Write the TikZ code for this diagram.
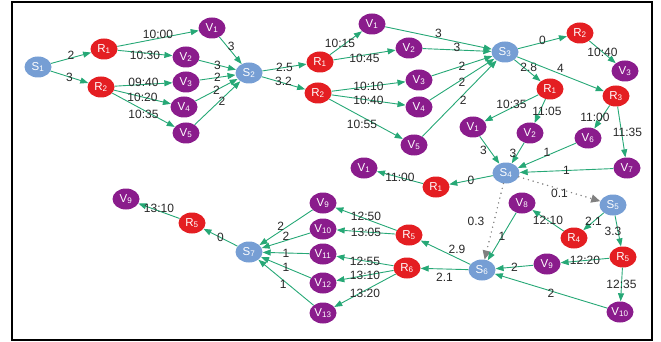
\documentclass[tikz,border=0pt]{standalone}
\usepackage{fontspec}
\setmainfont{Liberation Sans}
\usetikzlibrary{arrows.meta,shapes.geometric}
\definecolor{sblue}{RGB}{118,158,212}
\definecolor{rred}{RGB}{228,30,34}
\definecolor{vpurple}{RGB}{138,28,140}
\definecolor{egreen}{RGB}{38,168,118}
\definecolor{lgray}{RGB}{40,40,40}
\begin{document}
\begin{tikzpicture}[x=1pt,y=-1pt,
    snode/.style={ellipse,fill=sblue,text=white,inner sep=0pt,minimum width=27pt,minimum height=21pt,font=\fontsize{11.5}{11.5}\selectfont},
    rnode/.style={snode,fill=rred},
    vnode/.style={snode,fill=vpurple},
    edge/.style={draw=egreen,line width=0.9pt,-{Triangle[length=8pt,width=6pt]}},
    dotedge/.style={draw=gray,line width=1.6pt,line cap=round,dash pattern=on 0pt off 5pt,-{Triangle[length=9pt,width=8pt]}},
    lbl/.style={text=lgray,font=\fontsize{12}{12}\selectfont,inner sep=1pt}]
        \useasboundingbox (0,0) rectangle (661,342);
        \draw[line width=2pt] (12,2) rectangle (652,340);
        % first block
        \node[snode] (s1) at (38,67) {S\textsubscript{1}};
        \node[rnode] (r1a) at (104,49) {R\textsubscript{1}};
        \node[rnode] (r2a) at (101,87) {R\textsubscript{2}};
        \node[vnode] (v1a) at (212,28) {V\textsubscript{1}};
        \node[vnode] (v2a) at (186,57) {V\textsubscript{2}};
        \node[vnode] (v3a) at (186,82) {V\textsubscript{3}};
        \node[vnode] (v4a) at (184,107) {V\textsubscript{4}};
        \node[vnode] (v5a) at (186,133) {V\textsubscript{5}};
        \node[snode] (s2) at (249,73) {S\textsubscript{2}};
        \draw[edge] (s1) -- node[lbl,yshift=3pt] {2} (r1a);
        \draw[edge] (s1) -- node[lbl] {3} (r2a);
        \draw[edge] (r1a) -- node[lbl,yshift=4pt] {10:00} (v1a);
        \draw[edge] (r1a) -- node[lbl,yshift=-2pt] {10:30} (v2a);
        \draw[edge] (r2a) -- node[lbl,yshift=2pt] {09:40} (v3a);
        \draw[edge] (r2a) -- node[lbl] {10:20} (v4a);
        \draw[edge] (r2a) -- node[lbl,yshift=-4pt] {10:35} (v5a);
        \draw[edge] (v1a) -- node[lbl,pos=.35,xshift=4pt] {3} (s2);
        \draw[edge] (v2a) -- node[lbl] {3} (s2);
        \draw[edge] (v3a) -- node[lbl] {2} (s2);
        \draw[edge] (v4a) -- node[lbl] {2} (s2);
        \draw[edge] (v5a) -- node[lbl,pos=.6,yshift=-3pt] {2} (s2);
        % second block
        \node[rnode] (r1b) at (320,62) {R\textsubscript{1}};
        \node[rnode] (r2b) at (318,93) {R\textsubscript{2}};
        \node[vnode] (v1b) at (372,24) {V\textsubscript{1}};
        \node[vnode] (v2b) at (409,48) {V\textsubscript{2}};
        \node[vnode] (v3b) at (419,80) {V\textsubscript{3}};
        \node[vnode] (v4b) at (419,107) {V\textsubscript{4}};
        \node[vnode] (v5b) at (414,145) {V\textsubscript{5}};
        \node[snode] (s3) at (505,52) {S\textsubscript{3}};
        \draw[edge] (s2) -- node[lbl] {2.5} (r1b);
        \draw[edge] (s2) -- node[lbl,yshift=2pt] {3.2} (r2b);
        \draw[edge] (r1b) -- node[lbl,xshift=-6pt] {10:15} (v1b);
        \draw[edge] (r1b) -- node[lbl,yshift=-3pt] {10:45} (v2b);
        \draw[edge] (r2b) -- node[lbl] {10:10} (v3b);
        \draw[edge] (r2b) -- node[lbl] {10:40} (v4b);
        \draw[edge] (r2b) -- node[lbl,xshift=-4pt,yshift=-5pt] {10:55} (v5b);
        \draw[edge] (v1b) -- node[lbl,yshift=5pt] {3} (s3);
        \draw[edge] (v2b) -- node[lbl,yshift=3pt] {3} (s3);
        \draw[edge] (v3b) -- node[lbl] {2} (s3);
        \draw[edge] (v4b) -- node[lbl,yshift=-3pt] {2} (s3);
        \draw[edge] (v5b) -- node[lbl,pos=.55,yshift=-6pt] {2} (s3);
        % third block
        \node[rnode] (r2c) at (580,33) {R\textsubscript{2}};
        \node[vnode] (v3c) at (625,71) {V\textsubscript{3}};
        \node[rnode] (r1c) at (550,89) {R\textsubscript{1}};
        \node[rnode] (r3c) at (616,96) {R\textsubscript{3}};
        \node[vnode] (v1c) at (473,127) {V\textsubscript{1}};
        \node[vnode] (v2c) at (530,133) {V\textsubscript{2}};
        \node[vnode] (v6c) at (588,138) {V\textsubscript{6}};
        \node[vnode] (v7c) at (627,168) {V\textsubscript{7}};
        \node[snode] (s4) at (506,173) {S\textsubscript{4}};
        \draw[edge] (s3) -- node[lbl,yshift=2pt] {0} (r2c);
        \draw[edge] (r2c) -- node[lbl] {10:40} (v3c);
        \draw[edge] (s3) -- node[lbl,pos=.55,yshift=4pt] {2.8} (r1c);
        \draw[edge] (s3) -- node[lbl,yshift=6pt] {4} (r3c);
        \draw[edge] (r1c) -- node[lbl,yshift=4pt] {10:35} (v1c);
        \draw[edge] (r1c) -- node[lbl,xshift=7pt] {11:05} (v2c);
        \draw[edge] (r3c) -- node[lbl,xshift=-7pt] {11:00} (v6c);
        \draw[edge] (r3c) -- node[lbl,xshift=6pt] {11:35} (v7c);
        \draw[edge] (v1c) -- node[lbl,xshift=-6pt] {3} (s4);
        \draw[edge] (v2c) -- node[lbl,xshift=-5pt] {3} (s4);
        \draw[edge] (v6c) -- node[lbl,yshift=3pt] {1} (s4);
        \draw[edge] (v7c) -- node[lbl] {1} (s4);
        % fourth block
        \node[rnode] (r1d) at (436,187) {R\textsubscript{1}};
        \node[vnode] (v1d) at (364,168) {V\textsubscript{1}};
        \node[vnode] (v8d) at (522,203) {V\textsubscript{8}};
        \node[snode] (s5) at (613,205) {S\textsubscript{5}};
        \node[rnode] (r4d) at (574,238) {R\textsubscript{4}};
        \node[rnode] (r5d) at (623,257) {R\textsubscript{5}};
        \node[vnode] (v9d) at (547,264) {V\textsubscript{9}};
        \node[vnode] (v10d) at (620,312) {V\textsubscript{10}};
        \node[snode] (s6) at (482,270) {S\textsubscript{6}};
        \draw[edge] (s4) -- node[lbl] {0} (r1d);
        \draw[edge] (r1d) -- node[lbl] {11:00} (v1d);
        \draw[dotedge] (s4) -- node[lbl,yshift=-4pt] {0.1} (s5);
        \draw[dotedge] (s4) -- node[lbl,xshift=-18pt] {0.3} (s6);
        \draw[edge] (s5) -- node[lbl] {2.1} (r4d);
        \draw[edge] (s5) -- node[lbl,xshift=-5pt] {3.3} (r5d);
        \draw[edge] (r4d) -- node[lbl] {12:10} (v8d);
        \draw[edge] (r5d) -- node[lbl] {12:20} (v9d);
        \draw[edge] (r5d) -- node[lbl] {12:35} (v10d);
        \draw[edge] (v8d) -- node[lbl] {1} (s6);
        \draw[edge] (v9d) -- node[lbl] {2} (s6);
        \draw[edge] (v10d) -- node[lbl,yshift=-2pt] {2} (s6);
        % fifth block
        \node[rnode] (r5e) at (409,235) {R\textsubscript{5}};
        \node[rnode] (r6e) at (407,268) {R\textsubscript{6}};
        \node[vnode] (v9e) at (323,203) {V\textsubscript{9}};
        \node[vnode] (v10e) at (323,229) {V\textsubscript{10}};
        \node[vnode] (v11e) at (323,254) {V\textsubscript{11}};
        \node[vnode] (v12e) at (323,283) {V\textsubscript{12}};
        \node[vnode] (v13e) at (323,313) {V\textsubscript{13}};
        \node[snode] (s7) at (249,252) {S\textsubscript{7}};
        \node[rnode] (r5f) at (192,223) {R\textsubscript{5}};
        \node[vnode] (v9f) at (126,199) {V\textsubscript{9}};
        \draw[edge] (s6) -- node[lbl,pos=.27,yshift=9pt] {2.9} (r5e);
        \draw[edge] (s6) -- node[lbl,yshift=-8pt] {2.1} (r6e);
        \draw[edge] (r5e) -- node[lbl,yshift=3pt] {12:50} (v9e);
        \draw[edge] (r5e) -- node[lbl] {13:05} (v10e);
        \draw[edge] (r6e) -- node[lbl] {12:55} (v11e);
        \draw[edge] (r6e) -- node[lbl] {13:10} (v12e);
        \draw[edge] (r6e) -- node[lbl,yshift=-3pt] {13:20} (v13e);
        \draw[edge] (v9e) -- node[lbl,pos=.6,yshift=5pt] {2} (s7);
        \draw[edge] (v10e) -- node[lbl,yshift=4pt] {2} (s7);
        \draw[edge] (v11e) -- node[lbl] {1} (s7);
        \draw[edge] (v12e) -- node[lbl] {1} (s7);
        \draw[edge] (v13e) -- node[lbl,pos=.55,yshift=-4pt] {1} (s7);
        \draw[edge] (s7) -- node[lbl] {0} (r5f);
        \draw[edge] (r5f) -- node[lbl,yshift=3pt] {13:10} (v9f);
     \end{tikzpicture}
\end{document}
